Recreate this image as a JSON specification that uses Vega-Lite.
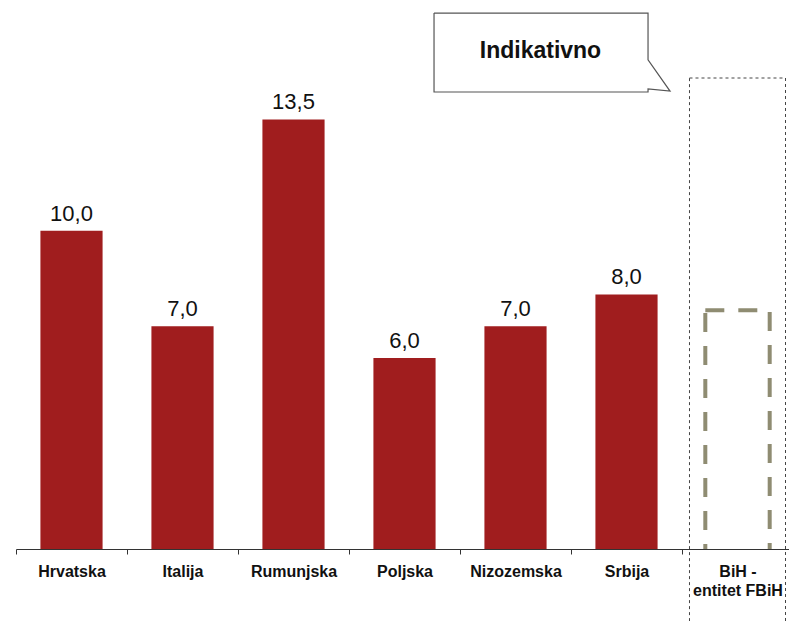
{
  "$schema": "https://vega.github.io/schema/vega-lite/v6.json",
  "autosize": {"type": "none"},
  "width": 777,
  "height": 541,
  "padding": {"left": 16, "top": 8, "right": 0, "bottom": 72},
  "background": "white",
  "config": {
    "view": {"stroke": null},
    "locale": {"number": {"decimal": ",", "thousands": ".", "grouping": [3], "currency": ["", " €"]}}
  },
  "datasets": {
    "bars": [
      {"country": "Hrvatska", "value": 10.0, "kind": "actual"},
      {"country": "Italija", "value": 7.0, "kind": "actual"},
      {"country": "Rumunjska", "value": 13.5, "kind": "actual"},
      {"country": "Poljska", "value": 6.0, "kind": "actual"},
      {"country": "Nizozemska", "value": 7.0, "kind": "actual"},
      {"country": "Srbija", "value": 8.0, "kind": "actual"},
      {"country": "BiH -|entitet FBiH", "value": 7.5, "kind": "indicative"}
    ],
    "frame": [
      {"country": "BiH -|entitet FBiH", "low": -2.5, "high": 14.8}
    ],
    "callout": [
      {"px": 3.766, "py": 16.84, "ord": 1},
      {"px": 5.694, "py": 16.84, "ord": 2},
      {"px": 5.694, "py": 15.37, "ord": 3},
      {"px": 5.892, "py": 14.39, "ord": 4},
      {"px": 5.694, "py": 14.46, "ord": 5},
      {"px": 5.694, "py": 14.36, "ord": 6},
      {"px": 3.766, "py": 14.36, "ord": 7},
      {"px": 3.766, "py": 16.84, "ord": 8}
    ],
    "calloutText": [
      {"px": 4.725, "py": 15.65, "label": "Indikativno"}
    ]
  },
  "layer": [
    {
      "layer": [
        {
          "data": {"name": "frame"},
          "mark": {"type": "bar", "fill": null, "fillOpacity": 0, "stroke": "#444", "strokeWidth": 1, "strokeDash": [3, 3], "width": {"band": 0.865}},
          "encoding": {
            "x": {"field": "country", "type": "nominal",
              "scale": {"domain": ["Hrvatska", "Italija", "Rumunjska", "Poljska", "Nizozemska", "Srbija", "BiH -|entitet FBiH"], "paddingInner": 0, "paddingOuter": 0},
              "axis": {
                "title": null, "labelAngle": 0, "tickBand": "extent",
                "domainColor": "#333", "tickColor": "#333", "tickSize": 5,
                "labelFont": "Liberation Sans", "labelFontWeight": "bold", "labelFontSize": 16,
                "labelColor": "#111", "labelPadding": 9, "labelLineHeight": 19,
                "labelExpr": "datum.value ? split(datum.value, '|') : ''"
              }
            },
            "y": {"field": "low", "type": "quantitative", "scale": {"domain": [0, 17], "nice": false, "zero": true}, "axis": null},
            "y2": {"field": "high"}
          }
        },
        {
          "data": {"name": "bars"},
          "transform": [{"filter": "datum.kind == 'actual'"}],
          "mark": {"type": "bar", "color": "#A01D1E", "width": {"band": 0.56}},
          "encoding": {
            "x": {"field": "country", "type": "nominal"},
            "y": {"field": "value", "type": "quantitative"}
          }
        },
        {
          "data": {"name": "bars"},
          "transform": [{"filter": "datum.kind == 'indicative'"}],
          "mark": {"type": "bar", "clip": true, "fill": "white", "fillOpacity": 0, "stroke": "#8f8c72", "strokeWidth": 4, "strokeDash": [19, 14], "width": {"band": 0.58}},
          "encoding": {
            "x": {"field": "country", "type": "nominal"},
            "y": {"field": "value", "type": "quantitative"},
            "y2": {"datum": -0.15}
          }
        },
        {
          "data": {"name": "bars"},
          "transform": [{"filter": "datum.kind == 'actual'"}],
          "mark": {"type": "text", "font": "Liberation Sans", "fontSize": 22, "color": "#111", "baseline": "alphabetic", "dy": -10},
          "encoding": {
            "x": {"field": "country", "type": "nominal"},
            "y": {"field": "value", "type": "quantitative"},
            "text": {"field": "value", "type": "quantitative", "format": ".1f"}
          }
        }
      ]
    },
    {
      "layer": [
        {
          "data": {"name": "callout"},
          "mark": {"type": "line", "color": "#555", "strokeWidth": 1.2},
          "encoding": {
            "x": {"field": "px", "type": "quantitative", "scale": {"domain": [0, 7], "nice": false, "zero": false}, "axis": null},
            "y": {"field": "py", "type": "quantitative"},
            "order": {"field": "ord"}
          }
        },
        {
          "data": {"name": "calloutText"},
          "mark": {"type": "text", "font": "Liberation Sans", "fontWeight": "bold", "fontSize": 23, "color": "#111", "baseline": "middle"},
          "encoding": {
            "x": {"field": "px", "type": "quantitative"},
            "y": {"field": "py", "type": "quantitative"},
            "text": {"field": "label"}
          }
        }
      ]
    }
  ],
  "resolve": {"scale": {"x": "independent"}}
}
